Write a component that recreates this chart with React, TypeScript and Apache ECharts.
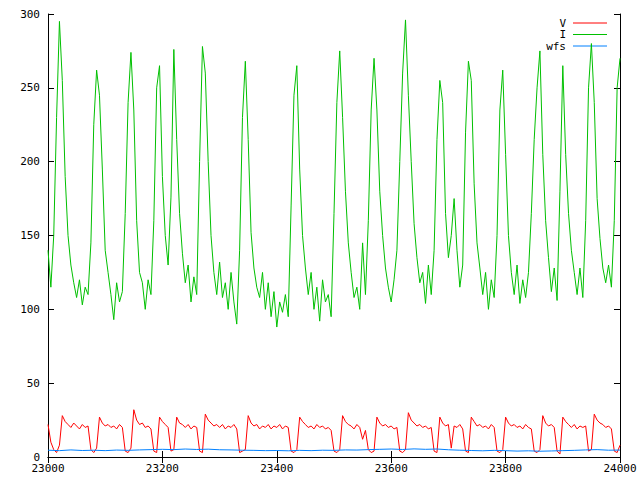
import React, { useEffect, useRef } from "react";
import * as echarts from "echarts";

// x positions: 23000..24000 step 5 for V and I
const xStart = 23000;
const xStep = 5;

const seriesV: number[] = [
  22, 10, 5, 3, 8, 28, 24, 22, 20, 23, 21, 19, 22, 20, 21, 5, 3, 6, 27, 23,
  21, 22, 20, 21, 19, 22, 20, 4, 3, 6, 32, 25, 22, 23, 20, 21, 19, 4, 3, 27,
  24, 22, 20, 4, 5, 27, 23, 22, 20, 22, 19, 21, 20, 4, 3, 29, 25, 23, 21, 22,
  20, 22, 19, 21, 20, 22, 19, 3, 4, 5, 28, 23, 21, 22, 19, 21, 20, 22, 19, 21,
  20, 22, 19, 21, 20, 4, 3, 5, 27, 24, 22, 20, 21, 19, 22, 20, 21, 19, 20, 18,
  4, 3, 5, 28, 24, 22, 21, 19, 22, 20, 12, 18, 5, 3, 4, 27, 23, 21, 22, 20,
  21, 19, 20, 4, 3, 5, 30, 25, 23, 21, 22, 20, 21, 19, 20, 4, 3, 27, 23, 21,
  22, 6, 21, 20, 22, 19, 4, 3, 27, 24, 21, 22, 20, 21, 19, 22, 20, 4, 3, 5,
  27, 23, 21, 22, 20, 21, 19, 22, 20, 19, 4, 3, 5, 28, 23, 21, 22, 20, 4, 2,
  27, 24, 22, 20, 22, 19, 21, 20, 21, 4, 5, 29, 25, 23, 22, 20, 21, 19, 4, 3,
  8,
];

const seriesI: number[] = [
  140, 115, 150, 230, 295, 255, 190, 150, 130, 118, 108, 120, 103, 115, 110, 145, 225, 262, 245, 195,
  140, 125, 110, 93, 118, 105, 112, 165, 240, 274, 235, 160, 125, 118, 100, 120, 110, 160, 250, 265,
  190, 150, 130, 176, 276, 215, 165, 138, 118, 130, 105, 122, 110, 200, 278, 260, 200, 150, 125, 110,
  132, 108, 118, 100, 125, 105, 90, 140, 230, 268, 215, 152, 128, 115, 108, 125, 100, 118, 95, 112,
  88, 105, 98, 110, 95, 170, 245, 265, 195, 150, 128, 110, 125, 100, 115, 92, 120, 105, 110, 95,
  165, 240, 275, 230, 180, 145, 125, 108, 115, 100, 145, 110, 160, 235, 270, 235, 180, 150, 128, 115,
  105, 120, 140, 200, 260, 296, 245, 200, 158, 135, 118, 125, 104, 130, 110, 140, 215, 255, 240, 165,
  135, 150, 175, 140, 115, 130, 220, 268, 255, 185, 145, 128, 110, 125, 100, 120, 108, 150, 235, 262,
  205, 150, 125, 110, 130, 104, 120, 108, 125, 165, 215, 250, 275, 205, 160, 135, 112, 128, 106, 180,
  265, 205, 165, 140, 125, 110, 128, 108, 160, 250, 280, 240, 175, 148, 128, 118, 130, 115, 160, 250,
  270,
];

// wfs sampled every 20 from 23000
const wfsStep = 20;
const seriesWfs: number[] = [
  4.6, 4.3, 4.8, 4.4, 4.6, 4.3, 4.7, 4.5, 4.8, 5.0, 5.2, 5.0, 5.4, 5.1, 5.3, 4.9, 4.8,
  4.6, 4.5, 4.3, 4.4, 4.2, 4.5, 4.3, 4.6, 4.5, 4.8, 4.7, 5.0, 5.2, 5.4, 5.1, 5.5, 5.2,
  5.4, 4.9, 4.6, 4.4, 4.2, 4.5, 4.3, 4.0, 4.2, 3.9, 4.1, 4.3, 4.5, 4.8, 5.0, 4.6, 4.7,
];

const legendNames = ["V", "I", "wfs"];
const colors = ["#ff0000", "#00c000", "#0080ff"];

const xMin = 23000;
const xMax = 24000;
const xInterval = 200;
const yMin = 0;
const yMax = 300;
const yInterval = 50;

const FONT = "DejaVu Sans Mono";

export default function App() {
  const ref = useRef<HTMLDivElement>(null);
  useEffect(() => {
    if (!ref.current) return;
    const chart = echarts.init(ref.current, undefined, { renderer: "svg" });
    const toPairs = (arr: number[], step: number) =>
      arr.map((v, i) => [xStart + i * step, v]);
    const axisCommon = {
      type: "value" as const,
      axisLine: { show: true, lineStyle: { color: "#000", width: 1 } },
      axisTick: { show: true, inside: true, length: 6, lineStyle: { color: "#000" } },
      splitLine: { show: false },
    };
    const legendGraphics: any[] = [];
    legendNames.forEach((n, k) => {
      const y = 23 + k * 11.5;
      legendGraphics.push({
        type: "text",
        x: 566,
        y,
        style: {
          text: n,
          align: "right",
          verticalAlign: "middle",
          font: `11px "${FONT}"`,
          fill: "#000",
        },
      });
      legendGraphics.push({
        type: "line",
        shape: { x1: 573, y1: y, x2: 607, y2: y },
        style: { stroke: colors[k], lineWidth: 1 },
      });
    });
    chart.setOption({
      animation: false,
      backgroundColor: "#fff",
      grid: { left: 48, right: 20, top: 14, bottom: 23, containLabel: false },
      xAxis: [
        {
          ...axisCommon,
          position: "bottom",
          min: xMin,
          max: xMax,
          interval: xInterval,
          axisLabel: {
            show: true,
            color: "#000",
            fontFamily: FONT,
            fontSize: 11,
            margin: 6,
            formatter: (v: number) => String(v),
          },
        },
        {
          ...axisCommon,
          position: "top",
          min: xMin,
          max: xMax,
          interval: xInterval,
          axisLabel: { show: false },
        },
      ],
      yAxis: [
        {
          ...axisCommon,
          position: "left",
          min: yMin,
          max: yMax,
          interval: yInterval,
          axisLabel: {
            show: true,
            color: "#000",
            fontFamily: FONT,
            fontSize: 11,
            margin: 8,
            formatter: (v: number) => String(v),
          },
        },
        {
          ...axisCommon,
          position: "right",
          min: yMin,
          max: yMax,
          interval: yInterval,
          axisLabel: { show: false },
        },
      ],
      series: [
        {
          name: legendNames[0],
          type: "line",
          data: toPairs(seriesV, xStep),
          showSymbol: false,
          lineStyle: { color: colors[0], width: 1 },
          itemStyle: { color: colors[0] },
        },
        {
          name: legendNames[1],
          type: "line",
          data: toPairs(seriesI, xStep),
          showSymbol: false,
          lineStyle: { color: colors[1], width: 1 },
          itemStyle: { color: colors[1] },
        },
        {
          name: legendNames[2],
          type: "line",
          data: toPairs(seriesWfs, wfsStep),
          showSymbol: false,
          lineStyle: { color: colors[2], width: 1 },
          itemStyle: { color: colors[2] },
        },
      ],
      graphic: legendGraphics,
    });
    return () => chart.dispose();
  }, []);
  return (
    <div
      ref={ref}
      style={{ position: "fixed", left: 0, top: 0, width: 640, height: 480 }}
    />
  );
}
